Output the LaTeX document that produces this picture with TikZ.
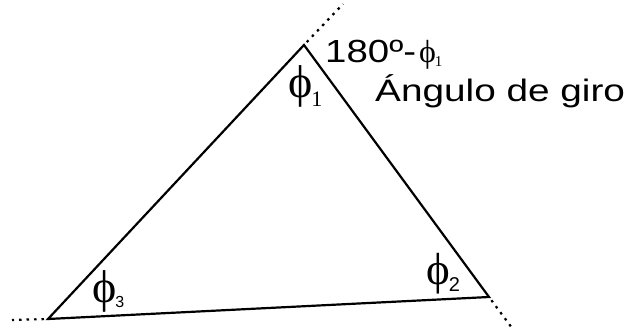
\documentclass[tikz,border=0pt]{standalone}
\usepackage{fontspec}
\setmainfont{Liberation Sans}
\newfontfamily\phifont{Liberation Serif}
\begin{document}
\begin{tikzpicture}[x=1pt,y=-1pt,
  side/.style={line width=2.2pt, line join=miter},
  ext/.style={line width=2.2pt, dash pattern=on 2.5pt off 5pt, shorten <=4pt},
  lbl/.style={inner sep=0pt, anchor=base west}]
\useasboundingbox (0,0) rectangle (627,331);
\coordinate (A) at (304,45);
\coordinate (B) at (48,319);
\coordinate (C) at (489,297);
\coordinate (E1) at (343,4);
\coordinate (E2) at (512,328);
\coordinate (E3) at (12,320);
\draw[side] (A) -- (B) -- (C) -- cycle;
\draw[ext] (A) -- (E1);
\draw[ext] (C) -- (E2);
\draw[ext] (B) -- (E3);
\node[lbl] (p1) at (288,98) {\phifont\fontsize{46}{46}\selectfont ϕ\kern-1pt\raisebox{-9pt}{\fontsize{22}{22}\selectfont 1}};
\node[lbl] (p2) at (426,285) {{\phifont\fontsize{45}{45}\selectfont ϕ}\kern-1pt\raisebox{-7pt}{\fontsize{20}{20}\selectfont 2}};
\node[lbl] (p3) at (92,303) {{\phifont\fontsize{46}{46}\selectfont ϕ}\kern-1pt\raisebox{-5pt}{\fontsize{16}{16}\selectfont 3}};
\node[lbl] (t1) at (325,63) {\scalebox{1.2}[1]{\fontsize{32}{32}\selectfont 180º-}\hspace{3pt}{\phifont\fontsize{32}{32}\selectfont ϕ\kern-1pt\raisebox{-4pt}{\fontsize{15}{15}\selectfont 1}}};
\node[lbl] (t2) at (375,102) {\scalebox{1.25}[1]{\fontsize{31}{31}\selectfont Ángulo de giro}};
\end{tikzpicture}
\end{document}
